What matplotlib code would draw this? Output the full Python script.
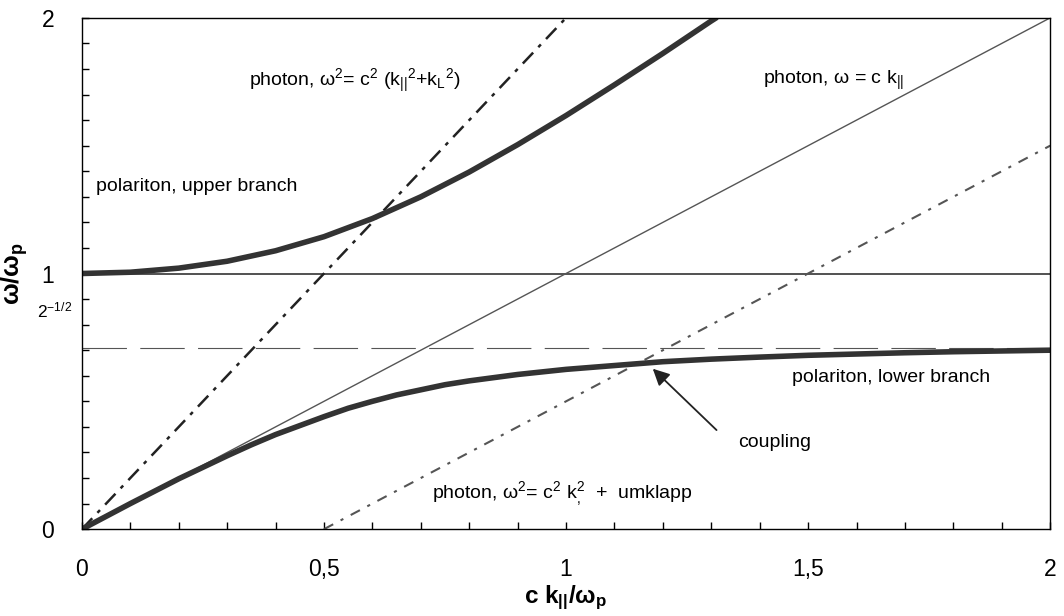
import matplotlib.pyplot as plt
from matplotlib.ticker import MultipleLocator, FixedLocator, FixedFormatter

plt.rcParams.update({
    "font.family": ["Liberation Sans", "DejaVu Sans"],
    "mathtext.default": "regular",
})

# data (units: c k / wp, w / wp)
upper_k = [0, 0.1, 0.2, 0.3, 0.4, 0.5, 0.6, 0.7, 0.8, 0.9, 1.0, 1.1, 1.2, 1.3, 1.31]
upper_w = [1.0, 1.005, 1.021, 1.048, 1.089, 1.144, 1.215, 1.300, 1.397, 1.504,
           1.618, 1.738, 1.861, 1.988, 2.0]

lower_k = [0, 0.1, 0.2, 0.3, 0.35, 0.4, 0.45, 0.5, 0.55, 0.6, 0.65, 0.7, 0.75,
           0.8, 0.9, 1.0, 1.1, 1.2, 1.3, 1.4, 1.5, 1.6, 1.7, 1.8, 1.9, 2.0]
lower_w = [0, 0.10, 0.197, 0.287, 0.33, 0.37, 0.405, 0.44, 0.473, 0.50, 0.525,
           0.545, 0.565, 0.58, 0.605, 0.625, 0.64, 0.655, 0.665, 0.673, 0.68,
           0.685, 0.69, 0.694, 0.697, 0.70]

photon_k = [0, 2]          # w = c k
photon_w = [0, 2]
light_k = [0, 1]           # w^2 = c^2 (k^2 + kL^2)
light_w = [0, 2]
umklapp_k = [0.5, 2]
umklapp_w = [0, 1.5]
plasma_k = [0, 2]
plasma_w = [1, 1]
surface_k = [0, 2]
surface_w = [0.707, 0.707]

xticks = [0, 0.5, 1, 1.5, 2]
xtick_labels = ["0", "0,5", "1", "1,5", "2"]
yticks = [0, 1, 2]
ytick_labels = ["0", "1", "2"]

fig = plt.figure(figsize=(10.64, 6.16), dpi=100)
ax = fig.add_axes([0.077, 0.141, 0.910, 0.830])

ax.plot(plasma_k, plasma_w, color="#222222", lw=1.1)
ax.plot(surface_k, surface_w, color="#555555", lw=0.8, dashes=(40, 12))
ax.plot(photon_k, photon_w, color="#555555", lw=1.0)
ax.plot(light_k, light_w, color="#222222", lw=1.8, dashes=(6, 3, 1.5, 3))
ax.plot(umklapp_k, umklapp_w, color="#555555", lw=1.5, dashes=(5, 4, 1.5, 4))
ax.plot(upper_k, upper_w, color="#333333", lw=4.0, solid_capstyle="round")
ax.plot(lower_k, lower_w, color="#333333", lw=4.0, solid_capstyle="round")

ax.set_xlim(0, 2)
ax.set_ylim(0, 2)

ax.xaxis.set_major_locator(FixedLocator(xticks))
ax.xaxis.set_major_formatter(FixedFormatter(xtick_labels))
ax.yaxis.set_major_locator(FixedLocator(yticks))
ax.yaxis.set_major_formatter(FixedFormatter(ytick_labels))
ax.xaxis.set_minor_locator(MultipleLocator(0.1))
ax.yaxis.set_minor_locator(MultipleLocator(0.1))
ax.tick_params(axis="both", which="both", direction="in", length=5, width=1)
ax.tick_params(axis="x", which="major", labelsize=16.5, pad=21)
ax.tick_params(axis="y", which="major", labelsize=16.5, pad=20)
for s in ax.spines.values():
    s.set_linewidth(1.0)

ax.set_xlabel("c k$_\\mathregular{||}$/ω$_\\mathregular{p}$", fontsize=17.5,
              fontweight="bold", labelpad=2)
ax.set_ylabel("ω/ω$_\\mathregular{p}$", fontsize=18.5, fontweight="bold", labelpad=8)

fs = 14
ax.text(0.345, 1.755, "photon, ω$^\\mathregular{2}$= c$^\\mathregular{2}$ (k$_\\mathregular{||}$$^\\mathregular{2}$+k$_\\mathregular{L}$$^\\mathregular{2}$)",
        fontsize=fs, va="center")
ax.text(1.407, 1.755, "photon, ω = c k$_\\mathregular{||}$", fontsize=fs, va="center")
ax.text(0.03, 1.34, "polariton, upper branch", fontsize=fs, va="center")
ax.text(1.467, 0.595, "polariton, lower branch", fontsize=fs, va="center")
ax.text(1.355, 0.34, "coupling", fontsize=fs, va="center")
ax.text(0.723, 0.14, "photon, ω$^\\mathregular{2}$= c$^\\mathregular{2}$ k$^\\mathregular{2}_\\mathregular{,}$  +  umklapp",
        fontsize=fs, va="center")
ax.text(-0.093, 0.857, "2$^\\mathregular{-1/2}$", fontsize=12.5, va="center", clip_on=False)

ax.annotate("", xy=(1.175, 0.635), xytext=(1.315, 0.38),
            arrowprops=dict(arrowstyle="-|>,head_length=1.0,head_width=0.5",
                            color="#222222", lw=1.3))

fig.savefig("out.png", dpi=100)
